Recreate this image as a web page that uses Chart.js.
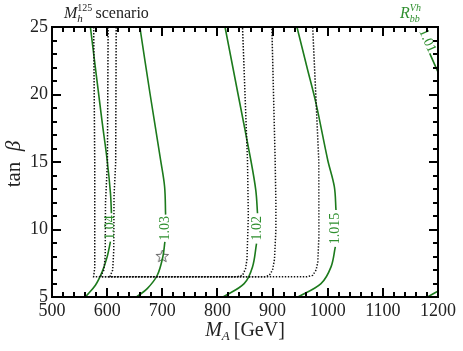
<!DOCTYPE html>
<html>
<head>
<meta charset="utf-8">
<script src="https://cdn.jsdelivr.net/npm/chart.js@4/dist/chart.umd.min.js"></script>
<style>
  body { margin: 0; background: #fff; }
  canvas { display: block; }
</style>
</head>
<body>
<canvas id="chart" width="463" height="351"></canvas>
<script>
// axes
const mATicks = [500, 600, 700, 800, 900, 1000, 1100, 1200];
const tanbTicks = [5, 10, 15, 20, 25];
const mAMinorStep = 20;
const tanbMinorStep = 1;

// green R_bb^Vh contours [M_A, tan beta], split where the label sits
const r104Upper = [[569.6, 25], [590.5, 18.1], [600, 15.15], [606, 12.7], [607.8, 11.2]];
const r104Lower = [[606, 9.1], [600, 7.97], [590.9, 6.86], [578.7, 5.87], [560.5, 5]];
const r103Upper = [[659.3, 25], [678, 20], [696.9, 15.15], [704.2, 13.17], [706, 11.1]];
const r103Lower = [[704.7, 9.08], [701, 7.97], [690.9, 6.61], [672.7, 5.62], [653.3, 5]];
const r102Upper = [[813.8, 25], [837.5, 20], [860.5, 15.15], [869.6, 12.9], [872.7, 11.2]];
const r102Lower = [[870.9, 8.96], [863.6, 7.23], [848.4, 5.99], [810.2, 5]];
const r1015Upper = [[944.2, 25], [962.5, 22], [978.7, 19.36], [1000, 15.15], [1012, 13.17], [1015, 11.44]];
const r1015Lower = [[1013.8, 8.71], [1006, 7.23], [987.8, 5.99], [946, 5]];
const r101Top = [[1185, 23.05], [1205, 21.2]];
const r101Bottom = [[1181, 5], [1205, 5.55]];

// contour labels
const labelText = ['1.04', '1.03', '1.02', '1.015', '1.01'];
const labelMA = [606.5, 705.5, 872, 1014.5, 1180.5];
const labelTanb = [10.15, 10.1, 10.1, 10.08, 23.98];

// dotted boundaries
const boundOuter = [[575.6, 25], [577.5, 15], [577.5, 7.2], [575.5, 6.5], [962, 6.5], [972.7, 6.6], [979, 7], [982, 7.6], [984, 9.5], [983.8, 15.15], [972.7, 25]];
const boundMiddle = [[601.8, 25], [600.5, 15], [597, 12], [596.5, 8], [594, 7], [588, 6.5], [886, 6.5], [894, 6.6], [900, 7], [903.5, 7.8], [906, 10], [906, 12], [904.7, 15.15], [898.7, 25]];
const boundInner = [[616.4, 25], [615.5, 15], [612.5, 12.5], [612, 8.5], [610, 7], [605, 6.5], [836, 6.5], [845.5, 6.6], [851, 7.1], [853.6, 7.8], [856, 11], [854.5, 15.15], [845.5, 25]];

// benchmark point
const benchMA = [700];
const benchTanb = [8];

const serif = "'Liberation Serif', 'Times New Roman', serif";
const green = '#1c7a1c';
const labelGreen = '#2f8f2f';

function pts(arr) {
    return arr.map(function(p) { return { x: p[0], y: p[1] }; });
}

function minorValues(major, step) {
    const out = [];
    for (let v = major[0]; v <= major[major.length - 1]; v += step) out.push(v);
    return out;
}

function makeStar(r) {
    const c = document.createElement('canvas');
    c.width = c.height = Math.ceil(2 * r + 4);
    const g = c.getContext('2d');
    const cx = c.width / 2, cy = c.height / 2;
    g.beginPath();
    for (let i = 0; i < 10; i++) {
        const rr = i % 2 === 0 ? r : r * 0.42;
        const a = -Math.PI / 2 + i * Math.PI / 5;
        const px = cx + rr * Math.cos(a), py = cy + rr * Math.sin(a);
        if (i === 0) g.moveTo(px, py); else g.lineTo(px, py);
    }
    g.closePath();
    g.fillStyle = '#fff';
    g.fill();
    g.strokeStyle = '#555';
    g.lineWidth = 0.9;
    g.stroke();
    return c;
}

// draws pieces of text one after another: [text, font, dy, advance?]
// a piece with advance=false is stacked with the next one (sub + superscript)
function drawPieces(ctx, pieces, x, y, align) {
    const widths = pieces.map(function(p) { ctx.font = p[1]; return ctx.measureText(p[0]).width; });
    const adv = [];
    for (let i = 0; i < pieces.length; i++) {
        if (pieces[i][3] === false) adv.push(0);
        else if (i > 0 && pieces[i - 1][3] === false) adv.push(Math.max(widths[i], widths[i - 1]));
        else adv.push(widths[i]);
    }
    const total = adv.reduce(function(s, w) { return s + w; }, 0);
    let cx = align === 'center' ? x - total / 2 : x;
    pieces.forEach(function(p, i) {
        ctx.font = p[1];
        ctx.fillText(p[0], cx, y + p[2]);
        cx += adv[i];
    });
}

const greenLine = function(arr) {
    return { data: pts(arr), borderColor: green, borderWidth: 1.6, pointRadius: 0, tension: 0.35, fill: false };
};
const dotLine = function(arr) {
    return { data: pts(arr), borderColor: '#111', borderWidth: 1.5, borderDash: [1.4, 1.6], pointRadius: 0, tension: 0, fill: false };
};

const decor = {
    id: 'decor',
    afterDraw(chart) {
        const ctx = chart.ctx;
        const a = chart.chartArea;
        const xs = chart.scales.x, ys = chart.scales.y;
        ctx.save();
        ctx.setLineDash([]);

        // contour labels
        ctx.fillStyle = labelGreen;
        ctx.font = '14px ' + serif;
        ctx.textAlign = 'center';
        ctx.textBaseline = 'middle';
        for (let i = 0; i < labelText.length; i++) {
            const px = xs.getPixelForValue(labelMA[i]);
            const py = ys.getPixelForValue(labelTanb[i]);
            ctx.save();
            ctx.translate(px, py);
            ctx.rotate(labelText[i] === '1.01' ? 66 * Math.PI / 180 : -Math.PI / 2);
            ctx.fillText(labelText[i], 0, 0);
            ctx.restore();
        }

        // frame
        const L = Math.round(a.left), R = Math.round(a.right);
        const T = Math.round(a.top), B = Math.round(a.bottom);
        ctx.fillStyle = '#000';
        ctx.fillRect(L - 1, T - 1, R - L + 2, 2);
        ctx.fillRect(L - 1, B - 1, R - L + 2, 2);
        ctx.fillRect(L - 1, T - 1, 2, B - T + 2);
        ctx.fillRect(R - 1, T - 1, 2, B - T + 2);

        // inward ticks on all four sides
        minorValues(mATicks, mAMinorStep).forEach(function(v) {
            const px = Math.round(xs.getPixelForValue(v));
            const len = mATicks.indexOf(v) >= 0 ? 9 : 5;
            ctx.fillRect(px - 1, B - len, 2, len);
            ctx.fillRect(px - 1, T, 2, len);
        });
        minorValues(tanbTicks, tanbMinorStep).forEach(function(v) {
            const py = Math.round(ys.getPixelForValue(v));
            const len = tanbTicks.indexOf(v) >= 0 ? 9 : 5;
            ctx.fillRect(L, py - 1, len, 2);
            ctx.fillRect(R - len, py - 1, len, 2);
        });

        ctx.fillStyle = '#222';
        ctx.textBaseline = 'alphabetic';
        ctx.textAlign = 'left';

        // x axis title
        drawPieces(ctx, [
            ['M', 'italic 20px ' + serif, 0],
            ['A', 'italic 13px ' + serif, 4],
            ['\u2009[GeV]', '20px ' + serif, 0]
        ], (a.left + a.right) / 2, 336, 'center');

        // y axis title
        ctx.save();
        ctx.translate(20, (a.top + a.bottom) / 2 + 2);
        ctx.rotate(-Math.PI / 2);
        drawPieces(ctx, [
            ['tan\u2002', '21px ' + serif, 0],
            ['\u03b2', 'italic 21px ' + serif, 0]
        ], 0, 0, 'center');
        ctx.restore();

        // scenario name
        drawPieces(ctx, [
            ['M', 'italic 16px ' + serif, 0],
            ['125', '10px ' + serif, -7, false],
            ['h', 'italic 11px ' + serif, 4],
            ['\u2009scenario', '16px ' + serif, 0]
        ], 64, 18, 'left');

        // quantity name
        ctx.fillStyle = labelGreen;
        drawPieces(ctx, [
            ['R', 'italic 16px ' + serif, 0],
            ['Vh', 'italic 10px ' + serif, -7, false],
            ['bb', 'italic 10px ' + serif, 4]
        ], 400, 18, 'left');
        ctx.restore();
    }
};

window.onload = function() {
    const ctx = document.getElementById('chart').getContext('2d');
    const star = makeStar(6.5);
    const chartConfig = {
        type: 'line',
        data: {
            datasets: [
                dotLine(boundOuter), dotLine(boundMiddle), dotLine(boundInner),
                greenLine(r104Upper), greenLine(r104Lower),
                greenLine(r103Upper), greenLine(r103Lower),
                greenLine(r102Upper), greenLine(r102Lower),
                greenLine(r1015Upper), greenLine(r1015Lower),
                greenLine(r101Top), greenLine(r101Bottom),
                {
                    data: benchMA.map(function(v, i) { return { x: v, y: benchTanb[i] }; }),
                    showLine: false,
                    pointStyle: star,
                    pointRadius: 7,
                    borderColor: '#555',
                    backgroundColor: '#fff'
                }
            ]
        },
        options: {
            responsive: false,
            animation: false,
            devicePixelRatio: 1,
            layout: { padding: { top: 27, right: 25, left: 0, bottom: 0 } },
            plugins: { legend: { display: false }, tooltip: { enabled: false } },
            scales: {
                x: {
                    type: 'linear',
                    min: 500,
                    max: 1200,
                    afterBuildTicks: function(s) { s.ticks = mATicks.map(function(v) { return { value: v }; }); },
                    afterFit: function(s) { s.height = 54; },
                    grid: { display: false, drawTicks: false },
                    border: { display: false },
                    ticks: {
                        color: '#222', padding: 3, maxRotation: 0,
                        font: { family: serif, size: 18 },
                        callback: function(v) { return String(v); }
                    }
                },
                y: {
                    type: 'linear',
                    min: 5,
                    max: 25,
                    afterBuildTicks: function(s) { s.ticks = tanbTicks.map(function(v) { return { value: v }; }); },
                    afterFit: function(s) { s.width = 52; },
                    grid: { display: false, drawTicks: false },
                    border: { display: false },
                    ticks: {
                        color: '#222', padding: 4,
                        font: { family: serif, size: 18 },
                        callback: function(v) { return String(v); }
                    }
                }
            }
        },
        plugins: [decor]
    };
    new Chart(ctx, chartConfig);
};
</script>
</body>
</html>
